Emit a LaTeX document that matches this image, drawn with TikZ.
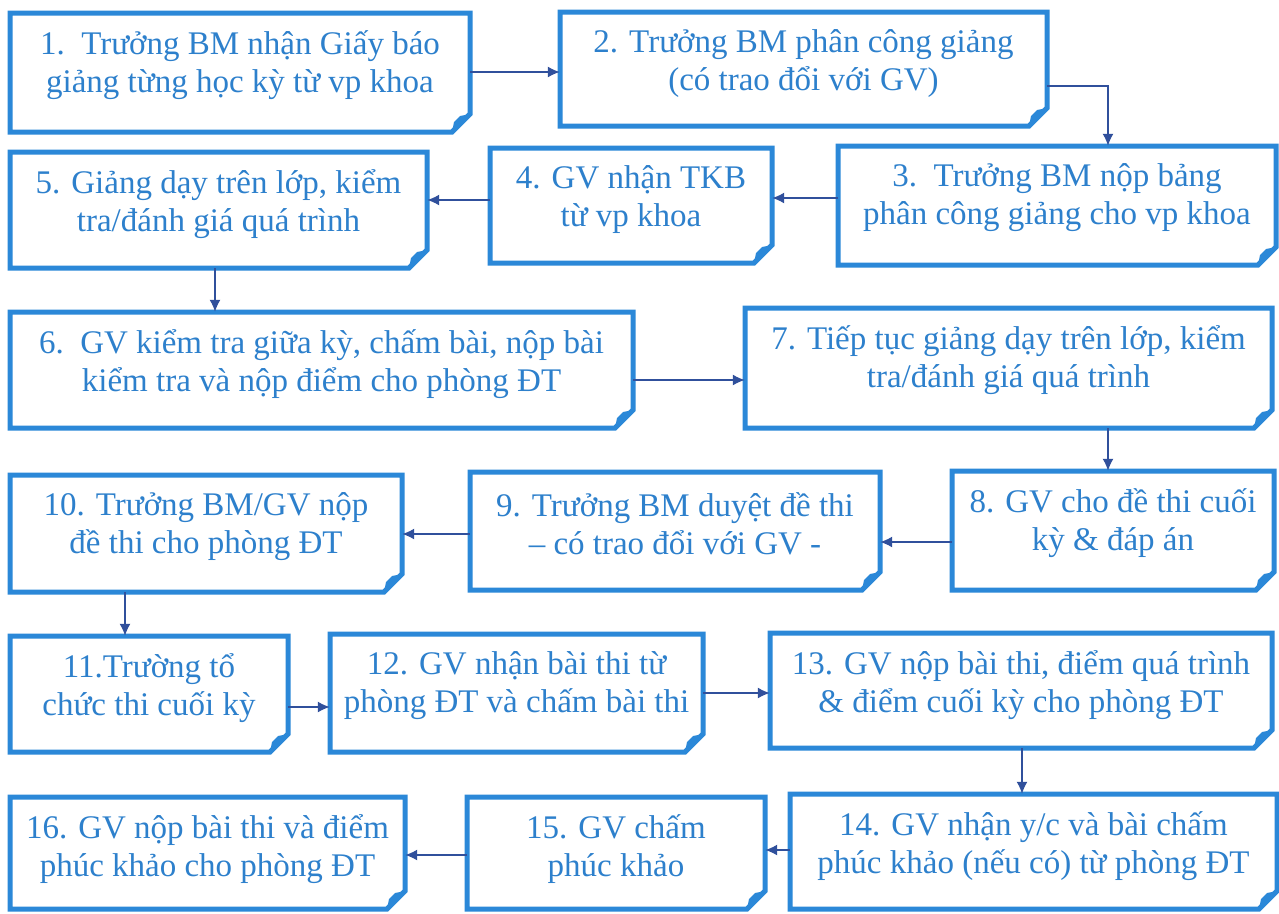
\documentclass[tikz,border=0pt]{standalone}
\usepackage{fontspec}
\setmainfont{Liberation Serif}
\usetikzlibrary{arrows.meta}
\definecolor{boxblue}{HTML}{2B88D8}
\definecolor{txtblue}{HTML}{2D80CC}
\definecolor{arrblue}{HTML}{30509C}
\tikzset{
  boxline/.style={draw=boxblue, line width=5pt, line join=miter, fill=white},
  foldfill/.style={fill=boxblue},
  txt/.style={text=txtblue, align=center, font=\fontsize{33}{38}\selectfont, inner sep=0pt},
  arr/.style={draw=arrblue, line width=1.5pt, -{Latex[length=12pt,width=11pt]}},
}
\newcommand\foldbox[6]{%
  \node[inner sep=0pt, minimum width={(#4-#2)*1pt}, minimum height={(#5-#3)*1pt}] (#1) at ({(#2+#4)/2},{(#3+#5)/2}) {};
  \draw[boxline] (#2,#3) -- (#4,#3) -- (#4,#5-18) -- (#4-18,#5) -- (#2,#5) -- cycle;
  \fill[foldfill] (#4,#5-18) -- (#4-18,#5) -- (#4-16,#5-10) -- (#4-10,#5-16) -- cycle;
  \node[txt] (#1t) at ({(#2+#4)/2},{#3+52}) {#6};
}
\begin{document}
\begin{tikzpicture}[x=1pt,y=-1pt]
\useasboundingbox[fill=white] (0,0) rectangle (1279,913);
\foldbox{b1}{10}{13}{470}{132}{1.\ \ Trưởng BM nhận Giấy báo\\giảng từng học kỳ từ vp khoa}
\foldbox{b2}{560}{12}{1047}{126}{2. Trưởng BM phân công giảng\\(có trao đổi với GV)}
\foldbox{b3}{838}{146}{1276}{265}{3.\ \ Trưởng BM nộp bảng\\phân công giảng cho vp khoa}
\foldbox{b4}{490}{148}{772}{263}{4. GV nhận TKB\\từ vp khoa}
\foldbox{b5}{10}{152}{427}{268}{5. Giảng dạy trên lớp, kiểm\\tra/đánh giá quá trình}
\foldbox{b6}{10}{312}{633}{428}{6.\ \ GV kiểm tra giữa kỳ, chấm bài, nộp bài\\kiểm tra và nộp điểm cho phòng ĐT}
\foldbox{b7}{745}{308}{1272}{428}{7. Tiếp tục giảng dạy trên lớp, kiểm\\tra/đánh giá quá trình}
\foldbox{b8}{952}{471}{1274}{590}{8. GV cho đề thi cuối\\kỳ \& đáp án}
\foldbox{b9}{470}{472}{880}{590}{9. Trưởng BM duyệt đề thi\\– có trao đổi với GV -}
\foldbox{b10}{10}{475}{402}{592}{10. Trưởng BM/GV nộp\\đề thi cho phòng ĐT}
\foldbox{b11}{10}{636}{288}{752}{11.Trường tổ\\chức thi cuối kỳ}
\foldbox{b12}{330}{634}{703}{752}{12. GV nhận bài thi từ\\phòng ĐT và chấm bài thi}
\foldbox{b13}{770}{633}{1272}{748}{13. GV nộp bài thi, điểm quá trình\\\& điểm cuối kỳ cho phòng ĐT}
\foldbox{b14}{790}{794}{1277}{909}{14. GV nhận y/c và bài chấm\\phúc khảo (nếu có) từ phòng ĐT}
\foldbox{b15}{467}{797}{765}{909}{15. GV chấm\\phúc khảo}
\foldbox{b16}{10}{797}{405}{909}{16. GV nộp bài thi và điểm\\phúc khảo cho phòng ĐT}
% connector guide coordinates
\coordinate (h1) at (0,72);
\coordinate (h2) at (0,86);
\coordinate (v2) at (1108,0);
\coordinate (h3) at (0,198);
\coordinate (h4) at (0,200);
\coordinate (v5) at (215,0);
\coordinate (h6) at (0,380);
\coordinate (v7) at (1108,0);
\coordinate (h8) at (0,542);
\coordinate (h9) at (0,534);
\coordinate (v10) at (125,0);
\coordinate (h11) at (0,707);
\coordinate (h12) at (0,693);
\coordinate (v13) at (1022,0);
\coordinate (h14) at (0,850);
\coordinate (h15) at (0,855);
\draw[arr] (b1.east |- h1) -- (b2.west |- h1);
\draw[arr] (b2.east |- h2) -| (b3.north -| v2);
\draw[arr] (b3.west |- h3) -- (b4.east |- h3);
\draw[arr] (b4.west |- h4) -- (b5.east |- h4);
\draw[arr] (b5.south -| v5) -- (b6.north -| v5);
\draw[arr] (b6.east |- h6) -- (b7.west |- h6);
\draw[arr] (b7.south -| v7) -- (b8.north -| v7);
\draw[arr] (b8.west |- h8) -- (b9.east |- h8);
\draw[arr] (b9.west |- h9) -- (b10.east |- h9);
\draw[arr] (b10.south -| v10) -- (b11.north -| v10);
\draw[arr] (b11.east |- h11) -- (b12.west |- h11);
\draw[arr] (b12.east |- h12) -- (b13.west |- h12);
\draw[arr] (b13.south -| v13) -- (b14.north -| v13);
\draw[arr] (b14.west |- h14) -- (b15.east |- h14);
\draw[arr] (b15.west |- h15) -- (b16.east |- h15);
\end{tikzpicture}
\end{document}
